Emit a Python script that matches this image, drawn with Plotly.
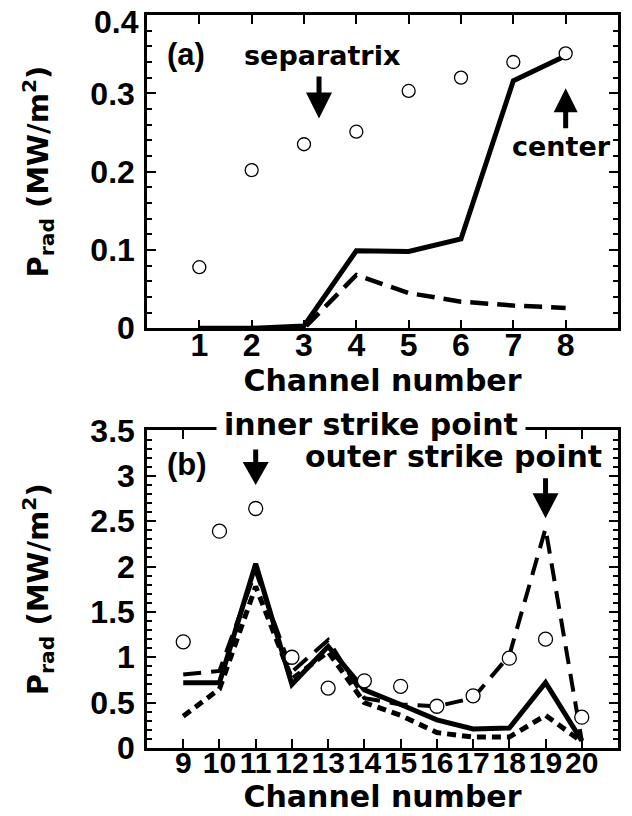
import plotly.graph_objects as go

# ---- data: panel (a) ----
ch_a = [1, 2, 3, 4, 5, 6, 7, 8]
meas_a = [0.078, 0.202, 0.235, 0.251, 0.303, 0.320, 0.340, 0.351]
solid_a = [0.0, 0.0, 0.003, 0.099, 0.098, 0.114, 0.316, 0.348]
dash_a = [0.0, 0.0, 0.0, 0.068, 0.045, 0.034, 0.029, 0.026]

# ---- data: panel (b) ----
ch_b = [9, 10, 11, 12, 13, 14, 15, 16, 17, 18, 19, 20]
meas_b = [1.17, 2.39, 2.64, 1.00, 0.66, 0.74, 0.68, 0.46, 0.575, 0.99, 1.20, 0.34]
solid_b = [0.72, 0.72, 2.03, 0.70, 1.12, 0.64, 0.48, 0.31, 0.21, 0.22, 0.72, 0.08]
dash_b = [0.81, 0.85, 1.95, 0.84, 1.19, 0.55, 0.48, 0.46, 0.55, 1.02, 2.42, 0.08]
dot_b = [0.35, 0.65, 1.78, 0.76, 1.06, 0.50, 0.36, 0.17, 0.12, 0.12, 0.36, 0.07]

yticks_a = [0, 0.1, 0.2, 0.3, 0.4]
ytext_a = ["0", "0.1", "0.2", "0.3", "0.4"]
yticks_b = [0, 0.5, 1, 1.5, 2, 2.5, 3, 3.5]

TICKFONT = dict(family="Liberation Sans, Arial", size=32, color="black", weight="bold")
TICKFONT_B = dict(family="Liberation Sans, Arial", size=30, color="black", weight="bold")
WORDFONT = "DejaVu Sans, Liberation Sans"

fig = go.Figure()

# panel (a)
fig.add_trace(go.Scatter(x=ch_a, y=dash_a, mode="lines", xaxis="x", yaxis="y",
                         line=dict(color="black", width=4.5, dash="18px,9px")))
fig.add_trace(go.Scatter(x=ch_a, y=solid_a, mode="lines", xaxis="x", yaxis="y",
                         line=dict(color="black", width=5)))
fig.add_trace(go.Scatter(x=ch_a, y=meas_a, mode="markers", xaxis="x", yaxis="y",
                         marker=dict(symbol="circle", size=13, color="white",
                                     line=dict(color="black", width=1.3))))

# panel (b)
fig.add_trace(go.Scatter(x=ch_b, y=dot_b, mode="lines", xaxis="x2", yaxis="y2",
                         line=dict(color="black", width=5, dash="9px,6px")))
fig.add_trace(go.Scatter(x=ch_b, y=dash_b, mode="lines", xaxis="x2", yaxis="y2",
                         line=dict(color="black", width=4, dash="18px,10px")))
fig.add_trace(go.Scatter(x=ch_b, y=solid_b, mode="lines", xaxis="x2", yaxis="y2",
                         line=dict(color="black", width=5)))
fig.add_trace(go.Scatter(x=ch_b, y=meas_b, mode="markers", xaxis="x2", yaxis="y2",
                         marker=dict(symbol="circle", size=14, color="white",
                                     line=dict(color="black", width=1.3))))

common_axis = dict(showline=True, linecolor="black", linewidth=2.5, mirror="ticks",
                   ticks="inside", ticklen=9, tickwidth=1.5, tickcolor="black",
                   showgrid=False, zeroline=False, automargin=False,
                   ticklabeloverflow="allow")

ytitle = dict(text="P<sub>rad</sub> (MW/m<sup>2</sup>)",
              font=dict(family=WORDFONT, size=29, color="black", weight="bold"),
              standoff=34)
xtitle = dict(text="Channel number",
              font=dict(family=WORDFONT, size=30, color="black", weight="bold"),
              standoff=0)

# top tick label of panel (a) is drawn as an annotation, nudged below the frame edge
ytext_a_axis = ytext_a[:-1] + [""]

fig.update_layout(
    width=632, height=816,
    margin=dict(l=147, r=14, t=15, b=68),
    paper_bgcolor="white", plot_bgcolor="white",
    showlegend=False,
    xaxis=dict(domain=[0, 1], range=[0, 9], tickvals=ch_a, anchor="y", tickangle=0,
               ticklabelstandoff=-13, title=xtitle, tickfont=TICKFONT, **common_axis),
    yaxis=dict(domain=[0.5726, 1], range=[0, 0.4], tickvals=yticks_a, ticktext=ytext_a_axis,
               anchor="x", ticklabelstandoff=3, title=ytitle, tickfont=TICKFONT,
               minor=dict(dtick=0.02, ticks="inside", ticklen=5, tickwidth=1.5,
                          tickcolor="black", showgrid=False),
               **common_axis),
    xaxis2=dict(domain=[0, 1], range=[8, 21], tickvals=ch_b, anchor="y2", tickangle=0,
                ticklabelstandoff=-14, title=xtitle, tickfont=TICKFONT_B, **common_axis),
    yaxis2=dict(domain=[0, 0.4332], range=[0, 3.5], tickvals=yticks_b, anchor="x2",
                ticklabelstandoff=3, title=ytitle, tickfont=TICKFONT,
                minor=dict(dtick=0.1, ticks="inside", ticklen=5, tickwidth=1.5,
                           tickcolor="black", showgrid=False),
                **common_axis),
)

LAB = dict(family="Liberation Sans, Arial", size=31, color="black", weight="bold")
W27 = dict(family=WORDFONT, size=27, color="black", weight="bold")
W30 = dict(family=WORDFONT, size=30, color="black", weight="bold")

annotations = [
    dict(x=-0.012, y=yticks_a[-1], xref="paper", yref="y", text=ytext_a[-1],
         showarrow=False, font=TICKFONT, xanchor="right", yanchor="middle", yshift=-7),
    dict(x=0.745, y=0.349, xref="x", yref="y", text="(a)", showarrow=False, font=LAB),
    dict(x=3.335, y=0.348, xref="x", yref="y", text="separatrix", showarrow=False, font=W27),
    dict(x=7.92, y=0.2315, xref="x", yref="y", text="center", showarrow=False, font=W27),
    dict(x=9.1, y=3.13, xref="x2", yref="y2", text="(b)", showarrow=False, font=LAB),
    dict(x=14.17, y=0.4413, xref="x2", yref="paper", text="inner strike point",
         showarrow=False, font=W30, bgcolor="white", borderpad=7),
    dict(x=16.47, y=3.214, xref="x2", yref="y2", text="outer strike point",
         showarrow=False, font=W30),
]
fig.update_layout(annotations=annotations)


def arrow_shapes(xref, yref, xt, yt, up=False, head=26, half=13, length=42, width=5):
    s = 1 if not up else -1
    head_path = f"M 0,0 L {-half},{s*head} L {half},{s*head} Z"
    return [
        dict(type="line", xref=xref, yref=yref, xsizemode="pixel", ysizemode="pixel",
             xanchor=xt, yanchor=yt, x0=0, x1=0, y0=s*(head - 4), y1=s*length,
             line=dict(color="black", width=width)),
        dict(type="path", xref=xref, yref=yref, xsizemode="pixel", ysizemode="pixel",
             xanchor=xt, yanchor=yt, path=head_path, fillcolor="black",
             line=dict(color="black", width=0)),
    ]


shapes = []
shapes += arrow_shapes("x", "y", 3.287, 0.268, up=False, head=26, half=13, length=42)
shapes += arrow_shapes("x", "y", 8.0, 0.3065, up=True, head=24, half=12, length=40)
shapes += arrow_shapes("x2", "y2", 11.0, 2.90, up=False, head=23, half=13, length=38)
shapes += arrow_shapes("x2", "y2", 19.0, 2.533, up=False, head=25, half=13, length=40)
fig.update_layout(shapes=shapes)

fig.write_html("out.html")
